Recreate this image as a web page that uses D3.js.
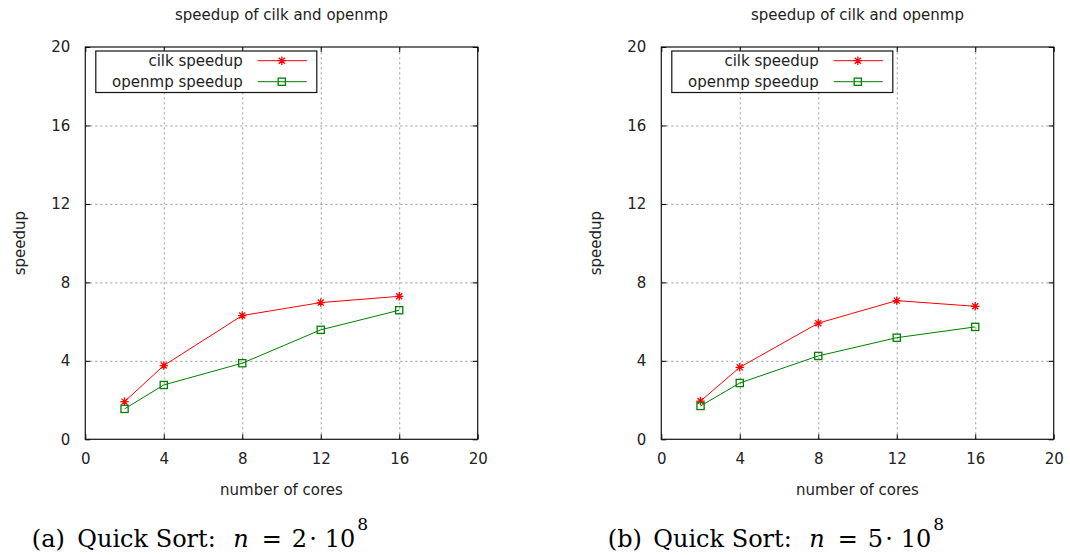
<!DOCTYPE html>
<html>
<head>
<meta charset="utf-8">
<script src="https://cdn.jsdelivr.net/npm/d3@7"></script>
<style>
  body { margin: 0; background: #fff; }
  svg text { font-family: "DejaVu Sans", sans-serif; fill: #222; }
  .caption { font-family: "DejaVu Serif", serif; fill: #000; }
</style>
</head>
<body>
<svg id="chart" width="1070" height="555"></svg>
<script>
// ------------------ DATA ------------------
const cores = [2, 4, 8, 12, 16];
const cilkA = [1.92, 3.76, 6.31, 6.97, 7.29];
const openmpA = [1.55, 2.77, 3.88, 5.58, 6.58];
const cilkB = [1.95, 3.67, 5.92, 7.07, 6.78];
const openmpB = [1.70, 2.87, 4.25, 5.18, 5.73];
const xTicks = [0, 4, 8, 12, 16, 20];
const yTicks = [0, 4, 8, 12, 16, 20];
const seriesNames = ["cilk speedup", "openmp speedup"];
const captions = [["(a)", "2"], ["(b)", "5"]];

const red = "#ff0000";
const green = "#008000";

let svg = d3.select("#chart");
let plotW = 392.4;
let plotH = 392.3;
let plotTop = 47;
let fontSize = "15px";

// ------------------ MARKERS ------------------
function starPath(r) {
    let d = r * 0.72;
    return `M${-r},0L${r},0M0,${-r}L0,${r}M${-d},${-d}L${d},${d}M${-d},${d}L${d},${-d}`;
}

function drawMarker(g, kind, cx, cy) {
    if (kind == "star") {
        g.append("path")
            .attr("d", starPath(4.2))
            .attr("transform", `translate(${cx},${cy})`)
            .attr("stroke", red)
            .attr("stroke-width", 1.3)
            .attr("fill", "none");
    } else {
        g.append("rect")
            .attr("x", cx - 3.6).attr("y", cy - 3.6)
            .attr("width", 7.2).attr("height", 7.2)
            .attr("stroke", green)
            .attr("stroke-width", 1.3)
            .attr("fill", "none");
    }
}

// ------------------ PANEL ------------------
function drawPanel(left, cilk, openmp, caption) {
    let x = d3.scaleLinear().domain([0, 20]).range([0, plotW]);
    let y = d3.scaleLinear().domain([0, 20]).range([plotH, 0]);

    let g = svg.append("g").attr("transform", `translate(${left},${plotTop})`);

    // grid
    g.append("g")
        .attr("transform", `translate(0,${plotH})`)
        .call(d3.axisBottom(x).tickValues(xTicks.slice(1, -1)).tickSize(-plotH).tickFormat(""))
        .call(a => a.select(".domain").remove())
        .selectAll("line")
        .attr("stroke", "#9a9a9a")
        .attr("stroke-dasharray", "2,3");
    g.append("g")
        .call(d3.axisLeft(y).tickValues(yTicks.slice(1, -1)).tickSize(-plotW).tickFormat(""))
        .call(a => a.select(".domain").remove())
        .selectAll("line")
        .attr("stroke", "#9a9a9a")
        .attr("stroke-dasharray", "2,3");

    // inner ticks on all four sides
    let tickAxes = [
        [d3.axisBottom(x).tickValues(xTicks), `translate(0,${plotH})`],
        [d3.axisTop(x).tickValues(xTicks), "translate(0,0)"],
        [d3.axisLeft(y).tickValues(yTicks), "translate(0,0)"],
        [d3.axisRight(y).tickValues(yTicks), `translate(${plotW},0)`]
    ];
    tickAxes.forEach(function (t) {
        g.append("g")
            .attr("transform", t[1])
            .call(t[0].tickSize(-5).tickFormat(""))
            .call(a => a.select(".domain").remove())
            .selectAll("line")
            .attr("stroke", "#000");
    });

    // tick labels
    g.append("g")
        .attr("transform", `translate(0,${plotH})`)
        .call(d3.axisBottom(x).tickValues(xTicks).tickSize(0).tickPadding(14))
        .call(a => a.select(".domain").remove())
        .selectAll("text")
        .style("font-family", "DejaVu Sans")
        .style("font-size", fontSize)
        .attr("fill", "#222");
    g.append("g")
        .call(d3.axisLeft(y).tickValues(yTicks).tickSize(0).tickPadding(15))
        .call(a => a.select(".domain").remove())
        .selectAll("text")
        .style("font-family", "DejaVu Sans")
        .style("font-size", fontSize)
        .attr("fill", "#222");

    // border
    g.append("rect")
        .attr("width", plotW).attr("height", plotH)
        .attr("fill", "none")
        .attr("stroke", "#111")
        .attr("stroke-width", 1.2);

    // lines
    let line = d3.line()
        .x(function (d, i) { return x(cores[i]); })
        .y(function (d) { return y(d); });

    g.append("path").datum(cilk)
        .attr("d", line)
        .attr("fill", "none")
        .attr("stroke", red)
        .attr("stroke-width", 1);
    g.append("path").datum(openmp)
        .attr("d", line)
        .attr("fill", "none")
        .attr("stroke", green)
        .attr("stroke-width", 1);

    cilk.forEach(function (d, i) { drawMarker(g, "star", x(cores[i]), y(d)); });
    openmp.forEach(function (d, i) { drawMarker(g, "square", x(cores[i]), y(d)); });

    // legend
    let leg = g.append("g").attr("transform", "translate(10.5,4)");
    leg.append("rect")
        .attr("width", 221).attr("height", 41.5)
        .attr("fill", "#fff")
        .attr("stroke", "#111")
        .attr("stroke-width", 1.2);
    let kinds = [["star", red], ["square", green]];
    seriesNames.forEach(function (name, i) {
        let ry = 9.7 + i * 21;
        leg.append("text")
            .attr("x", 147).attr("y", ry)
            .attr("dy", "0.35em")
            .attr("text-anchor", "end")
            .style("font-size", fontSize)
            .text(name);
        leg.append("line")
            .attr("x1", 162).attr("x2", 211)
            .attr("y1", ry).attr("y2", ry)
            .attr("stroke", kinds[i][1])
            .attr("stroke-width", 1);
        drawMarker(leg, kinds[i][0], 186, ry);
    });

    // title and axis labels
    g.append("text")
        .attr("x", plotW / 2).attr("y", -32)
        .attr("dy", "0.35em")
        .attr("text-anchor", "middle")
        .style("font-size", fontSize)
        .text("speedup of cilk and openmp");
    g.append("text")
        .attr("x", plotW / 2).attr("y", plotH + 50)
        .attr("dy", "0.35em")
        .attr("text-anchor", "middle")
        .style("font-size", fontSize)
        .text("number of cores");
    g.append("text")
        .attr("transform", `translate(-66,${plotH / 2}) rotate(-90)`)
        .attr("dy", "0.35em")
        .attr("text-anchor", "middle")
        .style("font-size", fontSize)
        .text("speedup");

    // caption (LaTeX subcaption look)
    let x0 = left - 53.5;
    let cap = svg.append("g").attr("class", "caption-group");
    let pieces = [
        [caption[0], 0, "normal", 24, 547],
        ["Quick Sort:", 45.5, "normal", 24, 547],
        ["n", 201.5, "italic", 24, 547],
        ["=", 230, "normal", 24, 547],
        [caption[1], 260, "normal", 24, 547],
        ["\u00b7", 277.5, "normal", 24, 547],
        ["10", 293, "normal", 24, 547],
        ["8", 325.5, "normal", 17, 530]
    ];
    pieces.forEach(function (p) {
        cap.append("text")
            .attr("class", "caption")
            .attr("x", x0 + p[1])
            .attr("y", p[4])
            .style("font-style", p[2])
            .style("font-size", p[3] + "px")
            .text(p[0]);
    });
}

drawPanel(85.3, cilkA, openmpA, captions[0]);
drawPanel(661.3, cilkB, openmpB, captions[1]);
</script>
</body>
</html>
